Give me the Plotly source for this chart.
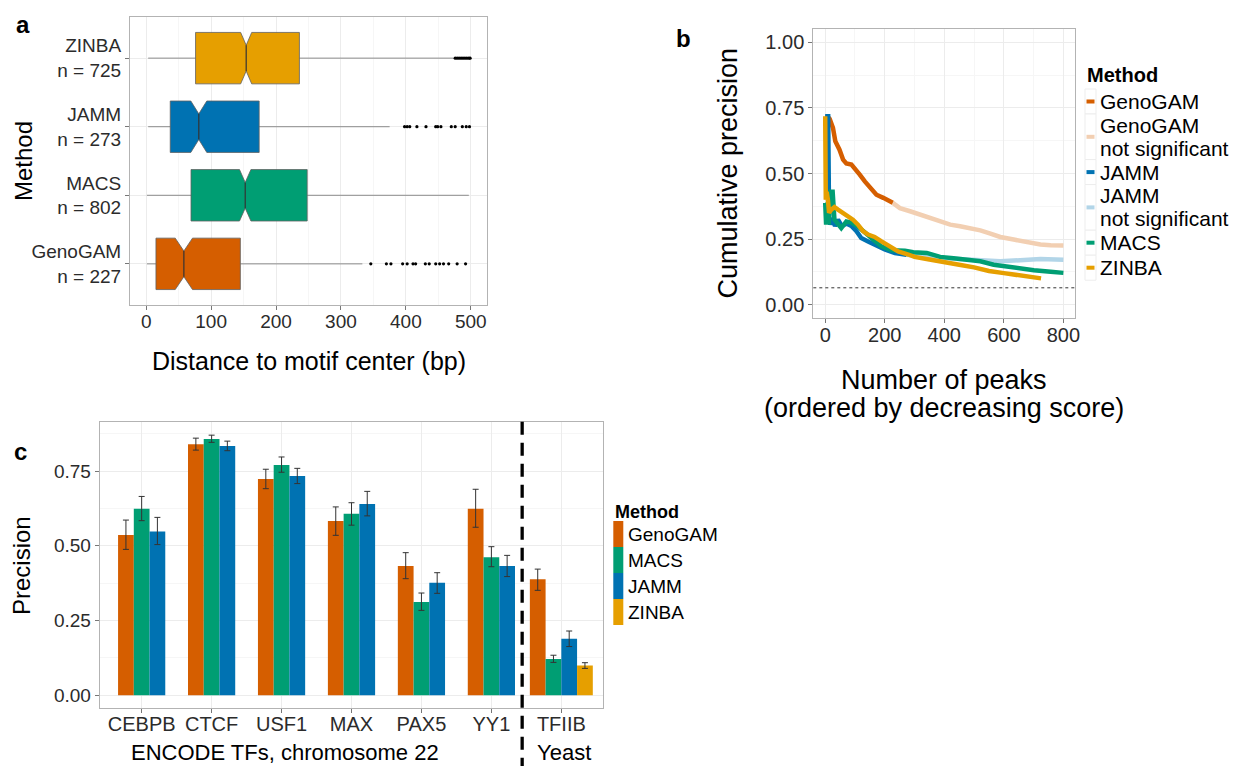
import plotly.graph_objects as go

W, H = 1234, 766
FONT = "Liberation Sans, Arial, Helvetica, sans-serif"

def px(x):
    return x / W

def py(y):
    return 1 - y / H

# ---------------- data: panel a (box plot stats, bp) ----------------
box_methods = ["GenoGAM", "MACS", "JAMM", "ZINBA"]
box_n = [227, 802, 273, 725]
box_low = [1, 1, 3, 3]
box_q1 = [15, 69, 37, 76]
box_med = [58, 152.5, 81, 154]
box_q3 = [145, 248, 174, 236]
box_high = [333, 497, 375, 474]
box_notch = [13.3, 8.8, 12.3, 8.5]
out_genogam = [346, 370, 377, 395, 402, 411, 415, 430, 436, 446, 452, 458, 466, 479, 492]
out_jamm = [398, 402, 406, 417, 431, 446, 449, 454, 470, 476, 487, 493, 498]
out_zinba = [476, 479, 482, 485, 488, 491, 494, 497, 499]
out_macs = []

# ---------------- data: panel b (cumulative precision) ----------------
gg_x = [0, 10, 15, 26, 34, 48, 60, 71, 88, 99, 116, 133, 155, 172, 195, 211, 227]
gg_y = [0.718, 0.715, 0.708, 0.674, 0.623, 0.591, 0.553, 0.538, 0.534, 0.521, 0.496, 0.47, 0.438, 0.419, 0.407, 0.396, 0.388]
ggns_x = [227, 251, 285, 318, 352, 386, 420, 453, 487, 521, 555, 588, 633, 678, 723, 757, 800]
ggns_y = [0.388, 0.368, 0.356, 0.343, 0.330, 0.318, 0.305, 0.299, 0.292, 0.283, 0.271, 0.258, 0.248, 0.238, 0.229, 0.226, 0.225]
jamm_x = [0, 10, 13, 17, 22, 28, 33, 43, 56, 71, 88, 105, 121, 144, 166, 200, 234, 273]
jamm_y = [0.718, 0.718, 0.33, 0.305, 0.33, 0.31, 0.30, 0.324, 0.299, 0.309, 0.300, 0.28, 0.254, 0.241, 0.229, 0.21, 0.197, 0.19]
jammns_x = [273, 300, 350, 400, 450, 500, 543, 588, 633, 678, 723, 800]
jammns_y = [0.19, 0.186, 0.181, 0.177, 0.174, 0.171, 0.168, 0.165, 0.168, 0.171, 0.174, 0.171]
macs_x = [0, 3, 8, 12, 18, 25, 31, 43, 54, 71, 88, 110, 133, 161, 189, 223, 268, 296, 341, 386, 431, 476, 521, 566, 633, 701, 757, 800]
macs_y = [0.388, 0.305, 0.39, 0.305, 0.43, 0.43, 0.324, 0.305, 0.292, 0.317, 0.313, 0.298, 0.273, 0.248, 0.222, 0.207, 0.205, 0.2, 0.197, 0.182, 0.177, 0.172, 0.165, 0.152, 0.14, 0.131, 0.125, 0.121]
zinba_x = [0, 2, 5, 9, 13, 20, 31, 43, 60, 77, 93, 110, 127, 144, 166, 189, 217, 245, 279, 300, 350, 400, 450, 500, 550, 600, 650, 700, 725]
zinba_y = [0.718, 0.40, 0.43, 0.40, 0.35, 0.362, 0.372, 0.362, 0.35, 0.337, 0.324, 0.305, 0.28, 0.267, 0.258, 0.241, 0.222, 0.203, 0.191, 0.182, 0.172, 0.16, 0.152, 0.142, 0.128, 0.12, 0.112, 0.105, 0.1]
baseline_precision = 0.064

# ---------------- data: panel c (precision per TF) ----------------
tfs = ["CEBPB", "CTCF", "USF1", "MAX", "PAX5", "YY1", "TFIIB"]
prec = {
    "GenoGAM": [0.536, 0.840, 0.723, 0.583, 0.432, 0.624, 0.388],
    "MACS":    [0.624, 0.857, 0.770, 0.607, 0.312, 0.462, 0.121],
    "JAMM":    [0.548, 0.834, 0.733, 0.640, 0.376, 0.432, 0.189],
    "ZINBA":   [None, None, None, None, None, None, 0.100],
}
prec_hi = {
    "GenoGAM": [0.586, 0.860, 0.756, 0.630, 0.477, 0.689, 0.422],
    "MACS":    [0.665, 0.870, 0.797, 0.644, 0.342, 0.497, 0.134],
    "JAMM":    [0.595, 0.850, 0.759, 0.682, 0.410, 0.468, 0.215],
    "ZINBA":   [None, None, None, None, None, None, 0.109],
}
prec_lo = {
    "GenoGAM": [0.488, 0.820, 0.691, 0.535, 0.390, 0.562, 0.351],
    "MACS":    [0.584, 0.846, 0.746, 0.569, 0.284, 0.430, 0.110],
    "JAMM":    [0.504, 0.818, 0.708, 0.600, 0.341, 0.397, 0.163],
    "ZINBA":   [None, None, None, None, None, None, 0.090],
}
bar_methods = ["GenoGAM", "MACS", "JAMM", "ZINBA"]

COL = {"GenoGAM": "#D55E00", "MACS": "#009E73", "JAMM": "#0072B2", "ZINBA": "#E69F00",
       "GenoGAM ns": "#F2CFB2", "JAMM ns": "#B2D5E8"}

fig = go.Figure()

# ---------------- panel a: notched boxes built from the stats ----------------
half = 0.375          # half box thickness (category units)
notch_frac = 0.5      # thickness kept at the median
outs = {"GenoGAM": out_genogam, "MACS": out_macs, "JAMM": out_jamm, "ZINBA": out_zinba}
for i, m in enumerate(box_methods):
    q1, md, q3 = box_q1[i], box_med[i], box_q3[i]
    ln, un = md - box_notch[i], md + box_notch[i]
    hn = half * notch_frac
    fig.add_trace(go.Scatter(x=[box_low[i], q1, None, q3, box_high[i]], y=[i, i, None, i, i],
                             mode="lines", line=dict(color="#8c8c8c", width=1),
                             xaxis="x", yaxis="y", showlegend=False, hoverinfo="skip"))
    bx = [q1, ln, md, un, q3, q3, un, md, ln, q1, q1]
    by = [i - half, i - half, i - hn, i - half, i - half, i + half, i + half, i + hn, i + half, i + half, i - half]
    fig.add_trace(go.Scatter(x=bx, y=by, mode="lines", fill="toself", fillcolor=COL[m],
                             line=dict(color="#5f5f5f", width=0.8),
                             xaxis="x", yaxis="y", showlegend=False, hoverinfo="skip"))
    fig.add_trace(go.Scatter(x=[md, md], y=[i - hn, i + hn], mode="lines",
                             line=dict(color="#333333", width=1.2),
                             xaxis="x", yaxis="y", showlegend=False, hoverinfo="skip"))
    if outs[m]:
        fig.add_trace(go.Scatter(x=outs[m], y=[i] * len(outs[m]), mode="markers",
                                 marker=dict(color="black", size=3.2),
                                 xaxis="x", yaxis="y", showlegend=False, hoverinfo="skip"))

# ---------------- panel b ----------------
lines_dict = {"GenoGAM": (gg_x, gg_y), "GenoGAM ns": (ggns_x, ggns_y),
              "JAMM": (jamm_x, jamm_y), "JAMM ns": (jammns_x, jammns_y),
              "MACS": (macs_x, macs_y), "ZINBA": (zinba_x, zinba_y)}
order_b = ["GenoGAM ns", "JAMM ns", "GenoGAM", "JAMM", "MACS", "ZINBA"]
for k in order_b:
    x, y = lines_dict[k]
    fig.add_trace(go.Scatter(x=x, y=y, mode="lines", line=dict(color=COL[k], width=4.5),
                             xaxis="x2", yaxis="y2", showlegend=False, hoverinfo="skip"))

# ---------------- panel c ----------------
bw = 0.225
for m in bar_methods:
    xs, ys, offs, ep, em = [], [], [], [], []
    for j, tf in enumerate(tfs):
        v = prec[m][j]
        if v is None:
            continue
        present = [mm for mm in bar_methods if prec[mm][j] is not None]
        k = present.index(m)
        offs.append(-len(present) * bw / 2 + k * bw)
        xs.append(tf)
        ys.append(v)
        ep.append(prec_hi[m][j] - v)
        em.append(v - prec_lo[m][j])
    fig.add_trace(go.Bar(x=xs, y=ys, offset=offs, width=[bw] * len(xs),
                         marker=dict(color=COL[m], line=dict(width=0)),
                         error_y=dict(type="data", symmetric=False, array=ep, arrayminus=em,
                                      color="#333333", thickness=1, width=3),
                         xaxis="x3", yaxis="y3", showlegend=False, hoverinfo="skip"))

# ---------------- axes ----------------
grid = "#ececec"
minor_grid = "#f6f6f6"
border = "#b3b3b3"
tickc = "#2b2b2b"
common = dict(showline=True, mirror=True, linecolor=border, linewidth=1, ticks="outside",
              ticklen=4, tickcolor="#777777", automargin=False, zeroline=False,
              gridcolor=grid, gridwidth=1)

fig.update_layout(
    width=W, height=H, margin=dict(l=0, r=0, t=0, b=0),
    paper_bgcolor="white", plot_bgcolor="white",
    font=dict(family=FONT, color="black"),
    barmode="overlay",
    xaxis=dict(domain=[px(130), px(487)], anchor="y", range=[-25, 525], dtick=100, tick0=0,
               minor=dict(dtick=50, showgrid=True, gridcolor=minor_grid), ticklabelstandoff=-5,
               tickfont=dict(size=19, color=tickc), **common),
    yaxis=dict(domain=[py(305), py(17)], anchor="x", range=[-0.6, 3.6],
               tickvals=list(range(len(box_methods))),
               ticktext=[f"{m}<br>n = {n}" for m, n in zip(box_methods, box_n)],
               tickfont=dict(size=19, color=tickc), **common),
    xaxis2=dict(domain=[px(813.3), px(1075.3)], anchor="y2", range=[-40, 840], dtick=200, tick0=0,
                minor=dict(dtick=100, showgrid=True, gridcolor=minor_grid), ticklabelstandoff=-5,
                tickfont=dict(size=20, color=tickc), **common),
    yaxis2=dict(domain=[py(317.7), py(29.3)], anchor="x2", range=[-0.05, 1.05], dtick=0.25, tick0=0,
                tickformat=".2f", minor=dict(dtick=0.125, showgrid=True, gridcolor=minor_grid),
                tickfont=dict(size=20, color=tickc), **common),
    xaxis3=dict(domain=[px(99.7), px(603.3)], anchor="y3", type="category",
                categoryorder="array", categoryarray=tfs, range=[-0.6, 6.6], ticklabelstandoff=-6,
                tickfont=dict(size=20, color=tickc), **common),
    yaxis3=dict(domain=[py(707.7), py(421.7)], anchor="x3", range=[-0.0415, 0.915],
                tickvals=[0, 0.25, 0.5, 0.75], tickformat=".2f",
                minor=dict(tickvals=[0.125, 0.375, 0.625, 0.875], showgrid=True, gridcolor=minor_grid),
                tickfont=dict(size=19, color=tickc), **common),
)

shapes = []
shapes.append(dict(type="line", xref="x2 domain", yref="y2", x0=0, x1=1,
                   y0=baseline_precision, y1=baseline_precision,
                   line=dict(color="#333333", width=1, dash="3px,3px")))
shapes.append(dict(type="line", xref="x3", yref="paper", x0=5.44, x1=5.44, y0=py(421.7), y1=0,
                   line=dict(color="black", width=3.3, dash="13px,8px")))

ann = []
def text(x, y, s, size, bold=False, angle=0, xanchor="center", color="black"):
    ann.append(dict(x=px(x), y=py(y), xref="paper", yref="paper", text=f"<b>{s}</b>" if bold else s,
                    showarrow=False, xanchor=xanchor, yanchor="middle", textangle=angle,
                    font=dict(size=size, color=color, family=FONT)))

text(23, 24, "a", 24, bold=True)
text(684, 39, "b", 24, bold=True)
text(20, 452, "c", 24, bold=True)

text(308.5, 361, "Distance to motif center (bp)", 25)
text(23, 161, "Method", 24, angle=-90)
text(727, 173.5, "Cumulative precision", 27, angle=-90)
text(944.3, 380, "Number of peaks", 27)
text(944.3, 408, "(ordered by decreasing score)", 27)
text(21, 565, "Precision", 24, angle=-90)
text(284.7, 752, "ENCODE TFs, chromosome 22", 22)
text(564, 752, "Yeast", 22)

# legend panel b
text(1085, 75, "Method", 20, bold=True, xanchor="left")
leg_b = [("GenoGAM", ["GenoGAM"]), ("GenoGAM ns", ["GenoGAM", "not significant"]),
         ("JAMM", ["JAMM"]), ("JAMM ns", ["JAMM", "not significant"]),
         ("MACS", ["MACS"]), ("ZINBA", ["ZINBA"])]
pitch = 22.8
y = 89
for key, lines in leg_b:
    hgt = max(len(lines) * pitch, 25)
    yc = y + hgt / 2
    shapes.append(dict(type="rect", xref="paper", yref="paper", x0=px(1085), x1=px(1096),
                       y0=py(y + hgt), y1=py(y), line=dict(color="#ededed", width=1), fillcolor="white"))
    shapes.append(dict(type="line", xref="paper", yref="paper", x0=px(1086.5), x1=px(1094.5),
                       y0=py(yc), y1=py(yc), line=dict(color=COL[key], width=4)))
    ty = yc - (len(lines) - 1) * pitch / 2
    for ln_ in lines:
        text(1098, ty, ln_, 21, xanchor="left")
        ty += pitch
    y += hgt

# legend panel c
text(613, 511.5, "Method", 18, bold=True, xanchor="left")
y = 521
for m in bar_methods:
    shapes.append(dict(type="rect", xref="paper", yref="paper", x0=px(613.3), x1=px(623.3),
                       y0=py(y + 26), y1=py(y), line=dict(width=0), fillcolor=COL[m]))
    text(625.5, y + 13, m, 19, xanchor="left")
    y += 26

fig.update_layout(shapes=shapes, annotations=ann)
fig.write_html("out.html")
